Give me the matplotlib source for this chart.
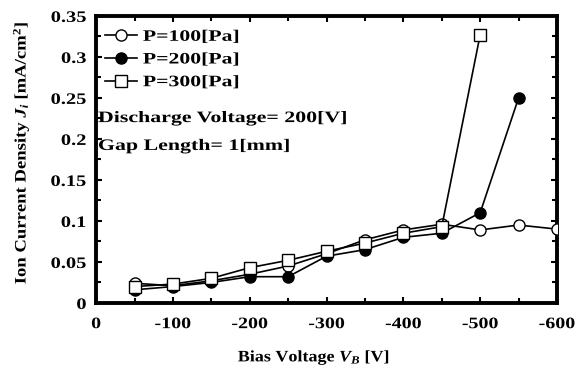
import numpy as np
import matplotlib.pyplot as plt
from matplotlib.ticker import MultipleLocator
from matplotlib.patheffects import AbstractPathEffect
from matplotlib.transforms import Affine2D

plt.rcParams['font.family'] = 'Liberation Serif'
plt.rcParams['font.weight'] = 'bold'
plt.rcParams['mathtext.fontset'] = 'custom'
plt.rcParams['mathtext.rm'] = 'Liberation Serif:bold'
plt.rcParams['mathtext.it'] = 'Liberation Serif:bold:italic'

# bias voltage [V]
v100 = [-50, -100, -150, -200, -250, -300, -350, -400, -450, -500, -550, -600]
v200 = [-50, -100, -150, -200, -250, -300, -350, -400, -450, -500, -550]
v300 = [-50, -100, -150, -200, -250, -300, -350, -400, -450, -500]

# ion current density [mA/cm2]
j100 = [0.024, 0.021, 0.027, 0.035, 0.045, 0.060, 0.077, 0.089, 0.096, 0.089, 0.095, 0.090]
j200 = [0.016, 0.020, 0.025, 0.032, 0.032, 0.057, 0.065, 0.080, 0.085, 0.110, 0.250]
j300 = [0.020, 0.023, 0.030, 0.043, 0.052, 0.063, 0.073, 0.085, 0.093, 0.327]


# the original text is drawn wide, so stretch the glyphs sideways
class Stretch(AbstractPathEffect):
    def __init__(self, sx, anchor='left'):
        super().__init__()
        self.sx = sx
        self.anchor = anchor

    def draw_path(self, renderer, gc, tpath, affine, rgbFace=None):
        ext = tpath.get_extents()
        if self.anchor == 'center':
            p = (ext.x0 + ext.x1) / 2
        elif self.anchor == 'right':
            p = ext.x1
        else:
            p = 0
        st = Affine2D().translate(-p, 0).scale(self.sx, 1).translate(p, 0)
        renderer.draw_path(gc, tpath, st + affine, rgbFace)


fs = 11.5
fig = plt.figure(figsize=(5.79, 3.69), dpi=100)
ax = fig.add_axes([0.166, 0.179, 0.796, 0.778])

ms = 8
ax.plot(v100, j100, 'k-o', mfc='white', mec='k', ms=ms, lw=1.2, label='P=100[Pa]', zorder=3)
ax.plot(v200, j200, 'k-o', mfc='black', mec='k', ms=ms, lw=1.2, label='P=200[Pa]', zorder=4)
ax.plot(v300, j300, 'k-s', mfc='white', mec='k', ms=ms, lw=1.2, label='P=300[Pa]', zorder=5)

ax.set_xlim(0, -600)
ax.set_ylim(0, 0.35)
ax.xaxis.set_major_locator(MultipleLocator(100))
ax.xaxis.set_minor_locator(MultipleLocator(50))
ax.yaxis.set_major_locator(MultipleLocator(0.05))
ax.yaxis.set_minor_locator(MultipleLocator(0.025))
ax.xaxis.set_major_formatter(plt.FuncFormatter(lambda v, p: '%d' % v))
ax.yaxis.set_major_formatter(plt.FuncFormatter(lambda v, p: '0' if v == 0 else ('%.2f' % v).rstrip('0')))

ax.tick_params(which='both', direction='in', top=True, right=True, width=1.5, labelsize=fs)
ax.tick_params(which='major', length=4)
ax.tick_params(which='minor', length=3.5)
ax.tick_params(axis='x', pad=9.5)
ax.tick_params(axis='y', pad=7)
for s in ax.spines.values():
    s.set_linewidth(2.8)

ax.set_xlabel('Bias Voltage $V_B$ [V]', fontsize=fs, fontweight='bold',
              path_effects=[Stretch(1.13, 'center')])
ax.set_ylabel('Ion Current Density $J_i$ [mA/cm$^2$]', fontsize=fs, fontweight='bold',
              path_effects=[Stretch(1.17, 'center')])
ax.xaxis.set_label_coords(0.473, -0.155)
ax.yaxis.set_label_coords(-0.14, 0.524)

fig.canvas.draw()
for t in ax.get_xticklabels():
    t.set_path_effects([Stretch(1.25, 'center')])
for t in ax.get_yticklabels():
    t.set_path_effects([Stretch(1.28, 'right')])

leg = ax.legend(loc='upper left', bbox_to_anchor=(0.02, 0.955), frameon=False,
                fontsize=fs, handlelength=2.0, handletextpad=0.35,
                labelspacing=0.42, borderaxespad=0, borderpad=0)
for t in leg.get_texts():
    t.set_path_effects([Stretch(1.36)])

ax.text(0.004, 0.63, 'Discharge Voltage= 200[V]', transform=ax.transAxes, fontsize=fs,
        fontweight='bold', path_effects=[Stretch(1.37)])
ax.text(0.004, 0.533, 'Gap Length= 1[mm]', transform=ax.transAxes, fontsize=fs,
        fontweight='bold', path_effects=[Stretch(1.37)])

fig.savefig('out.png', dpi=100)
